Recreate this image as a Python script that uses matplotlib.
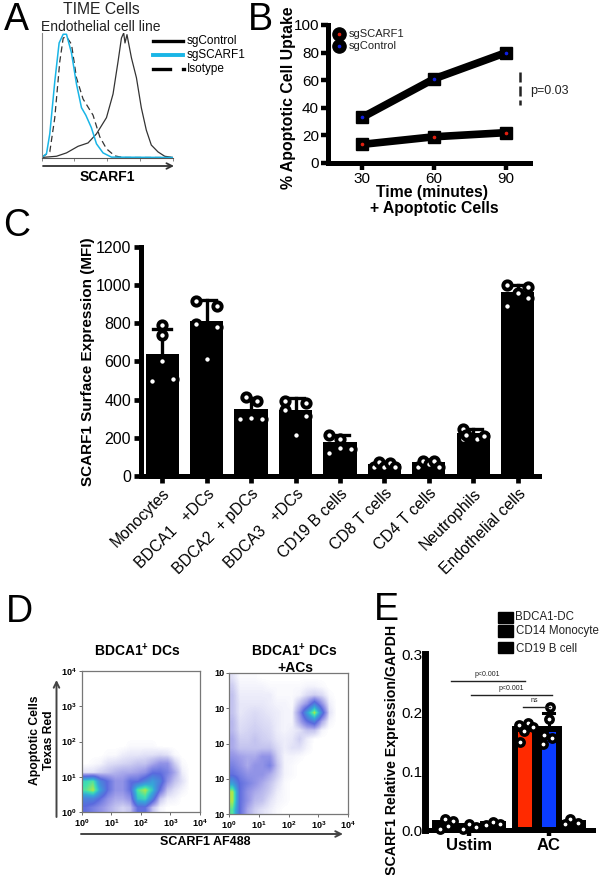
import numpy as np
import matplotlib
matplotlib.use('Agg')
import matplotlib.pyplot as plt
from matplotlib.colors import LinearSegmentedColormap
from matplotlib.patches import Rectangle
from matplotlib.transforms import ScaledTranslation

plt.rcParams['font.family'] = ['Liberation Sans', 'DejaVu Sans']
plt.rcParams['mathtext.default'] = 'regular'

W, H = 600, 875

# panel A, histogram outlines (x in % of axis, y in % of mode)
ctrl_x = [0, 11.4, 19, 27.8, 35.4, 41.8, 49.4, 54.4, 58.2, 60.8, 62.5, 63.5, 65, 68.4, 72.2, 75.9, 79.7, 83.5, 88.6, 93.7, 100]
ctrl_y = [0, 1, 3.7, 9, 11.7, 19, 32, 51, 77, 96, 100, 92, 98.7, 80, 64, 40, 22, 10, 4.5, 1, 0]
scarf_x = [0, 3.8, 6.3, 10.1, 13.4, 16.5, 19, 22.8, 26.6, 30.4, 33.7, 37.9, 41.8, 46.8, 53.2, 100]
scarf_y = [0, 3, 19, 61, 92, 99, 99, 84, 59, 40, 34, 24, 11, 3.7, 0.3, 0]
iso_x = [0, 6.3, 10.1, 13.9, 16.5, 19, 22.8, 26.6, 31.6, 39.2, 44.3, 49.4, 55.7, 62, 100]
iso_y = [0, 4.5, 32, 77, 96, 97, 91, 64, 47, 34, 16.7, 7, 1.3, 0, 0]

# panel B
times = [30, 60, 90]
uptake_ctrl = [33, 61, 80]
uptake_scarf = [13.5, 19, 22]

# panel C
cells = ['Monocytes', 'BDCA1   +DCs', 'BDCA2  + pDCs', 'BDCA3   +DCs', 'CD19 B cells',
         'CD8 T cells', 'CD4 T cells', 'Neutrophils', 'Endothelial cells']
mfi = [640, 810, 350, 345, 176, 61, 72, 223, 965]
mfi_top = [768, 920, 410, 407, 215, 75, 85, 245, 1000]
mfi_pts = [[790, 738, 604, 499, 508], [918, 890, 794, 782, 611], [415, 393, 297, 305, 300],
           [394, 384, 345, 316, 215], [215, 194, 122, 148, 141], [47, 75, 47, 66, 45],
           [45, 77, 61, 80, 45], [246, 194, 213, 192, 209], [1002, 991, 960, 934, 890]]
mfi_off = [[0, 0, 0, -.24, .24], [-.24, .24, -.24, .24, 0], [-.12, .13, -.24, 0, .24],
           [-.24, .24, -.24, .24, 0], [-.24, 0, -.24, 0, .24], [-.24, -.12, 0, .12, .24],
           [-.24, -.12, 0, .12, .24], [-.24, -.24, -.16, .08, .24], [-.24, .24, 0, .24, -.24]]

# panel D, dot density read on a 16x16 grid, bottom row first
dens_left = [
    [3, 2.5, 2, 1.5, 1, .7, 1, 3, 3, 1, .2, 0, 0, 0, 0, 0],
    [4, 4, 3, 2, 1.5, 1.5, 2, 6, 6.5, 4, 1, .3, .2, 0, 0, 0],
    [7, 8, 5, 3, 2, 2, 3, 7, 8, 6, 3, 1, .5, .2, 0, 0],
    [6.5, 7, 4, 3, 2, 2, 3, 3, 4, 5, 4, 2, 1, .5, 0, 0],
    [.5, .5, .8, 1, 1.3, 1.5, 1.5, 1.7, 2, 3, 3, 2.5, 1.5, .3, 0, 0],
    [0, .1, .2, .5, .6, .7, .8, 1, 1, 1.5, 2, 2, .8, .1, 0, 0],
    [0, 0, 0, .1, .1, .3, .4, .4, .5, .5, .6, .5, .1, 0, 0, 0],
    [0, 0, 0, 0, 0, 0, .1, .1, .1, .1, 0, 0, 0, 0, 0, 0],
    [0] * 16, [0] * 16, [0] * 16, [0] * 16, [0] * 16, [0] * 16, [0] * 16, [0] * 16]
dens_right = [
    [7, 3, 1.5, .8, .5, .3, .1, 0, 0, 0, 0, 0, 0, 0, 0, 0],
    [8, 3, 2, 1.2, 1, .5, .2, .1, 0, 0, 0, 0, 0, 0, 0, 0],
    [8, 3, 2, 1.5, 1.2, .8, .3, .1, 0, 0, 0, 0, 0, 0, 0, 0],
    [5, 3, 2.5, 2, 1.5, 1, .5, .1, 0, 0, 0, 0, 0, 0, 0, 0],
    [3, 2.5, 2, 2, 2, 1.5, .8, .2, .1, 0, 0, 0, 0, 0, 0, 0],
    [2.5, 2, 1.5, 2, 2, 2.5, 1, .2, .1, 0, 0, 0, 0, 0, 0, 0],
    [2, 1.7, 1.5, 1.5, 2, 2, .8, .2, .2, .1, 0, 0, 0, 0, 0, 0],
    [1.5, 1, 1, 1, 1, 1, .6, .3, .5, .5, .2, 0, 0, 0, 0, 0],
    [1.5, .8, .8, 1, .8, .7, .4, .3, .4, .8, .3, 0, 0, 0, 0, 0],
    [1.2, .6, .7, .8, .7, .6, .3, .2, .3, .5, 1, 1, .2, 0, 0, 0],
    [1.2, .5, .6, .7, .6, .5, .3, .2, .2, 1.5, 3, 4, 1.5, .2, 0, 0],
    [1, .4, .5, .6, .5, .4, .3, .2, .2, 2, 5, 8, 4, .5, 0, 0],
    [1, .4, .4, .4, .4, .3, .2, .2, .1, 1, 2, 4, 2, .3, 0, 0],
    [1, .3, .3, .3, .3, .3, .1, .1, .1, .2, .6, .8, .6, .1, 0, 0],
    [.8, .2, .2, .2, .2, .1, .1, .1, .1, .1, .2, .2, .1, 0, 0, 0],
    [.5, .1, .1, .1, 0, 0, 0, 0, 0, 0, 0, 0, 0, 0, 0, 0]]
decades = [r'$10^{0}$', r'$10^{1}$', r'$10^{2}$', r'$10^{3}$', r'$10^{4}$']

# panel E
expr_bars = [0.012, 0.006, 0.01, 0.172, 0.172, 0.012]
expr_cols = ['black', 'black', 'black', '#ff2a00', '#0a3cff', 'black']
expr_pts = [[.001, .019, .016, .007], [.002, .011, .005], [.0085, .014, .01],
            [.179, .182, .168, .15, .175], [.21, .189, .147, .157, .162], [.018, .0125, .011]]
expr_off = [[-.06, 0, .1, .04], [-.07, 0, .09], [-.08, 0, .09],
            [-.075, .046, -.012, -.06, .1], [.012, .004, -.07, .046, -.06], [-.04, .07, -.1]]


def px_axes(l, t, r, b):
    return fig.add_axes([l / W, 1 - b / H, (r - l) / W, (b - t) / H])


def label(x, y, s, size=10, **kw):
    kw.setdefault('ha', 'center')
    kw.setdefault('va', 'center')
    fig.text(x / W, 1 - y / H, s, fontsize=size, **kw)


fig = plt.figure(figsize=(6, 8.75), dpi=100)

# overlay for arrows, legend keys and so on, in pixels
over = fig.add_axes([0, 0, 1, 1], zorder=10)
over.set_xlim(0, W)
over.set_ylim(H, 0)
over.axis('off')


def arrow(x0, y0, x1, y1, color='#333333', lw=1.3):
    over.annotate('', xy=(x1, y1), xytext=(x0, y0),
                  arrowprops=dict(arrowstyle='->', color=color, lw=lw, shrinkA=0, shrinkB=0))


for s, x, y in [('A', 16, 20), ('B', 260, 20), ('C', 17, 226), ('D', 19, 612), ('E', 386, 610)]:
    label(x, y, s, size=27)

# A
ax = px_axes(41.5, 33, 173, 157.5)
ax.plot(ctrl_x, ctrl_y, color='#333333', lw=0.9)
ax.plot(iso_x, iso_y, color='#333333', lw=0.9, ls=(0, (5, 3)))
ax.plot(scarf_x, scarf_y, color='#19b5e6', lw=1.1)
ax.set_xlim(0, 100)
ax.set_ylim(0, 100)
ax.spines[['top', 'right']].set_visible(False)
ax.spines['left'].set_color('#888888')
ax.spines['bottom'].set_color('#555555')
ax.set_yticks([])
ax.set_xticks(np.arange(0, 101, 25))
ax.set_xticklabels([])
ax.tick_params(axis='x', length=2, width=0.5, color='#555555')
arrow(43, 166, 174, 166)
label(101, 10, 'TIME Cells', size=11.3, color='#222222')
label(101, 27, 'Endothelial cell line', size=10, color='#222222')
label(107, 177, 'SCARF1', size=10, fontweight='bold')
over.plot([153, 183], [41, 41], color='black', lw=2.4)
over.plot([153, 183], [55, 55], color='#19b5e6', lw=2.8)
over.plot([153, 170], [69, 69], color='black', lw=2.4)
over.plot([182.5, 184], [69, 69], color='black', lw=2.4)
label(187, 41, 'sgControl', size=8.5, ha='left')
label(187, 55, 'sgSCARF1', size=8.5, ha='left')
label(187, 69, 'Isotype', size=8.5, ha='left')

# B
ax = px_axes(328, 25, 530, 163)
ax.plot(times, uptake_ctrl, color='black', lw=5.5, marker='s', ms=9)
ax.plot(times, uptake_scarf, color='black', lw=5.5, marker='s', ms=9)
ax.plot(times, uptake_ctrl, ls='', marker='o', ms=1.6, color='#1020e0')
ax.plot(times, uptake_scarf, ls='', marker='o', ms=1.6, color='#e02010')
ax.set_xlim(15.8, 100)
ax.set_ylim(0, 100)
ax.spines[['top', 'right']].set_visible(False)
ax.spines[['left', 'bottom']].set_linewidth(3.6)
ax.set_xticks(times)
ax.set_yticks(range(0, 101, 20))
ax.tick_params(length=5, width=3.2, labelsize=11, colors='black', pad=1.5)
label(289, 98, '% Apoptotic Cell Uptake', size=11.4, rotation=90, fontweight='bold')
label(432, 192, 'Time (minutes)', size=11.3, fontweight='bold')
label(434, 209, '+ Apoptotic Cells', size=11.3, fontweight='bold')
for y, c, s in [(34, '#e02010', 'sgSCARF1'), (46, '#1020e0', 'sgControl')]:
    over.plot([339], [y], marker='o', ms=9.5, color='black')
    over.plot([339], [y], marker='o', ms=1.6, color=c)
    label(349, y, s, size=8, ha='left', color='#222222')
over.plot([519.5, 519.5], [72, 105], color='#222222', lw=1.8, ls=(0, (4, 1.6)))
label(530, 91, 'p=0.03', size=9, ha='left', color='#222222')

# C
ax = px_axes(140.7, 246.7, 539, 476)
xc = np.arange(len(cells))
ax.bar(xc, mfi, width=0.75, color='black', zorder=2)
for i in xc:
    ax.plot([i, i], [mfi[i], mfi_top[i]], color='black', lw=2.4, zorder=2)
    ax.plot([i - .2, i + .2], [mfi_top[i], mfi_top[i]], color='black', lw=2.4, zorder=2)
    ax.scatter(i + np.array(mfi_off[i]), mfi_pts[i], s=36, facecolor='white',
               edgecolor='black', linewidth=2.8, zorder=3, clip_on=False)
ax.set_xlim(-0.486, 8.48)
ax.set_ylim(0, 1200)
ax.spines[['top', 'right']].set_visible(False)
ax.spines[['left', 'bottom']].set_linewidth(3.6)
ax.set_yticks(range(0, 1201, 200))
ax.set_xticks(xc)
ax.set_xticklabels(cells, rotation=45, ha='right', rotation_mode='anchor', fontsize=11.3)
shift = ScaledTranslation(-3 / 100, 0, fig.dpi_scale_trans)
for t in ax.get_xticklabels():
    t.set_transform(t.get_transform() + shift)
ax.tick_params(axis='both', length=5, width=3.4, pad=2)
ax.tick_params(axis='y', labelsize=11.5)
label(88, 362, 'SCARF1 Surface Expression (MFI)', size=11, rotation=90, fontweight='bold')

# D
flow = LinearSegmentedColormap.from_list(
    'flow', [(0, 'white'), (.1, '#c8c8f0'), (.2, '#9a9ae8'), (.35, '#5a6ade'),
             (.6, '#35a8d8'), (.75, '#40e0b0'), (.88, '#a8e850'), (1, '#f0d020')])
for box, dens, ylabs in [((81.7, 671, 200, 812), dens_left, decades),
                         ((229, 673, 348, 814), dens_right, ['10'] * 5)]:
    ax = px_axes(*box)
    ax.imshow(dens, origin='lower', extent=[0, 4, 0, 4], aspect='auto', cmap=flow,
              vmin=0, vmax=9, interpolation='bilinear')
    ax.set_xticks(range(5))
    ax.set_xticklabels(decades)
    ax.set_yticks(range(5))
    ax.set_yticklabels(ylabs)
    ax.tick_params(length=2, width=0.6, labelsize=6.5, color='#555555', pad=1.5)
    for t in ax.get_xticklabels() + ax.get_yticklabels():
        t.set_fontweight('bold')
    for sp in ax.spines.values():
        sp.set_color('#777777')
        sp.set_linewidth(0.9)
label(138, 651, r'BDCA1$^{+}$ DCs', size=10, fontweight='bold')
label(295, 651, r'BDCA1$^{+}$ DCs', size=10, fontweight='bold')
label(295, 668, '+ACs', size=10, fontweight='bold')
label(42, 740, 'Apoptotic Cells\nTexas Red', size=8.7, rotation=90, fontweight='bold')
label(205, 842, 'SCARF1 AF488', size=9, fontweight='bold')
arrow(56.5, 817, 56.5, 680, color='#444444', lw=1.4)
arrow(81, 834, 343, 834, color='#444444', lw=1.4)

# E
ax = px_axes(425, 654, 592.7, 830)
xe = np.array([-.3, 0, .3, .7, 1, 1.3])
ax.bar(xe, expr_bars, width=0.25, color=expr_cols, edgecolor='black', linewidth=4.3, zorder=2)
ax.plot([1, 1], [.176, .2], color='black', lw=2.2, zorder=2)
ax.plot([.93, 1.07], [.2, .2], color='black', lw=2.2, zorder=2)
for i in range(len(xe)):
    ax.scatter(xe[i] + np.array(expr_off[i]), expr_pts[i], s=28, facecolor='white',
               edgecolor='black', linewidth=2.5, zorder=3, clip_on=False)
ax.set_xlim(-.55, 1.55)
ax.set_ylim(0, 0.3)
ax.spines[['top', 'right']].set_visible(False)
ax.spines['left'].set_linewidth(5)
ax.spines['bottom'].set_linewidth(3.6)
ax.set_yticks([0, .1, .2, .3])
ax.set_yticklabels(['0.0', '0.1', '0.2', '0.3'])
ax.set_xticks([0, 1])
ax.set_xticklabels(['Ustim', 'AC'], fontweight='bold', fontsize=12)
ax.tick_params(axis='y', length=0, labelsize=11, pad=2)
ax.tick_params(axis='x', length=4, width=3.2, pad=2)
label(392, 750, 'SCARF1 Relative Expression/GAPDH', size=10.2, rotation=90, fontweight='bold')
for x0, x1, y in [(451, 525, 680.5), (471, 552, 695), (523, 550, 707)]:
    over.plot([x0, x1], [y, y], color='#222222', lw=1)
label(487, 674, 'p<0.001', size=5, color='#222222')
label(511, 688, 'p<0.001', size=5, color='#222222')
label(534, 700, 'ns', size=5, color='#222222')
for t, b, s, y in [(612, 623, 'BDCA1-DC', 617), (625, 637, 'CD14 Monocyte', 631), (642, 653, 'CD19 B cell', 649)]:
    over.add_patch(Rectangle((498, t), 15, b - t, color='black'))
    label(515.5, y, s, size=8.3, ha='left', color='#222222')

fig.savefig('out.png', dpi=100)
